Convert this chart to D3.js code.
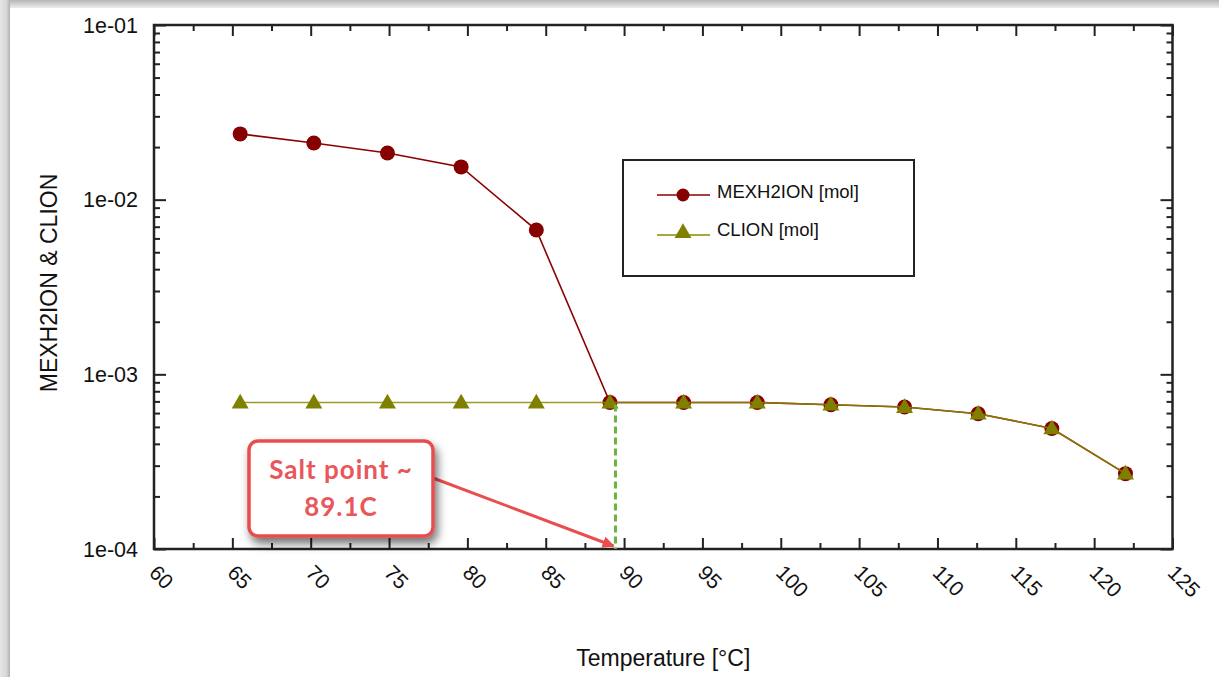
<!DOCTYPE html>
<head>
<meta charset="utf-8">
<style>
	body{
		margin: 0;
		background: white;
	}
	svg{
		display: block;
	}
	text{
		font-family: "Liberation Sans", Arial, sans-serif;
		fill: #111;
	}
</style>
</head>
<body>
<script src="https://cdn.jsdelivr.net/npm/d3@7"></script>
<svg width="1219" height="677"></svg>
<script>
	// values
	var temps = [65.5, 70.2, 74.9, 79.6, 84.4, 89.1, 93.8, 98.5, 103.2, 107.9, 112.6, 117.3, 122.0];
	var mexh2ion = [2.38e-2, 2.11e-2, 1.85e-2, 1.54e-2, 6.7e-3, 6.9e-4, 6.9e-4, 6.9e-4, 6.7e-4, 6.5e-4, 5.95e-4, 4.9e-4, 2.7e-4];
	var clion = [6.9e-4, 6.9e-4, 6.9e-4, 6.9e-4, 6.9e-4, 6.9e-4, 6.9e-4, 6.9e-4, 6.7e-4, 6.5e-4, 5.95e-4, 4.9e-4, 2.7e-4];
	var xTicks = [60, 65, 70, 75, 80, 85, 90, 95, 100, 105, 110, 115, 120, 125];
	var yTicks = [1e-4, 1e-3, 1e-2, 1e-1];
	var saltX = 89.45;
	var saltLabel = ["Salt point ~", "89.1C"];

	// plot frame (window.top is taken, hence the p prefix)
	var pLeft = 154, pRight = 1172.5, pTop = 25, pBottom = 549;

	var svg = d3.select("svg");

	// window shadow around the picture
	var defs = svg.append("defs");
	var gTop = defs.append("linearGradient").attr("id","gTop").attr("x1",0).attr("y1",0).attr("x2",0).attr("y2",1);
	gTop.append("stop").attr("offset","0%").attr("stop-color","#b5b5b5");
	gTop.append("stop").attr("offset","100%").attr("stop-color","#ececec");
	var gLeft = defs.append("linearGradient").attr("id","gLeft").attr("x1",0).attr("y1",0).attr("x2",1).attr("y2",0);
	gLeft.append("stop").attr("offset","0%").attr("stop-color","#e6e6e6");
	gLeft.append("stop").attr("offset","65%").attr("stop-color","#d6d6d6");
	gLeft.append("stop").attr("offset","100%").attr("stop-color","#b0b0b0");
	var shadow = defs.append("filter").attr("id","shadow")
		.attr("x","-20%").attr("y","-20%").attr("width","150%").attr("height","160%");
	shadow.append("feDropShadow")
		.attr("dx",3).attr("dy",6).attr("stdDeviation",5)
		.attr("flood-color","#000").attr("flood-opacity",0.55);

	svg.append("rect").attr("x",0).attr("y",0).attr("width",1219).attr("height",8).attr("fill","url(#gTop)");
	svg.append("rect").attr("x",0).attr("y",0).attr("width",10).attr("height",677).attr("fill","url(#gLeft)");

	var x = d3.scaleLinear().domain([60, 125]).range([pLeft, pRight]);
	var y = d3.scaleLog().domain([1e-4, 1e-1]).range([pBottom, pTop]);

	var minorY = y.ticks().filter(function(d){ return yTicks.indexOf(d) < 0; });
	var minorX = d3.range(62.5, 125, 5);

	function tickLines(gen, pos, values, size){
		svg.append("g")
			.attr("transform", pos)
			.call(gen.tickValues(values).tickSize(size).tickFormat(""))
			.call(function(g){
				g.select(".domain").remove();
				g.selectAll("line").attr("stroke","#222").attr("stroke-width",2);
			});
	}
	// inward ticks on all four sides
	tickLines(d3.axisLeft(y), "translate(" + pLeft + ",0)", yTicks, -12);
	tickLines(d3.axisLeft(y), "translate(" + pLeft + ",0)", minorY, -6);
	tickLines(d3.axisRight(y), "translate(" + pRight + ",0)", yTicks, -12);
	tickLines(d3.axisRight(y), "translate(" + pRight + ",0)", minorY, -6);
	tickLines(d3.axisBottom(x), "translate(0," + pBottom + ")", xTicks, -11);
	tickLines(d3.axisBottom(x), "translate(0," + pBottom + ")", minorX, -6);
	tickLines(d3.axisTop(x), "translate(0," + pTop + ")", xTicks, -11);
	tickLines(d3.axisTop(x), "translate(0," + pTop + ")", minorX, -6);

	svg.append("rect")
		.attr("x",pLeft).attr("y",pTop)
		.attr("width",pRight-pLeft).attr("height",pBottom-pTop)
		.attr("fill","none").attr("stroke","#222").attr("stroke-width",2.5);

	// tick labels
	svg.selectAll(".ylab").data(yTicks).enter().append("text")
		.attr("class","ylab")
		.attr("x",pLeft - 16)
		.attr("y",function(d){ return y(d); })
		.attr("dy","0.36em")
		.attr("text-anchor","end")
		.style("font-size","21.5px")
		.text(function(d){ return "1e-" + String(Math.round(-Math.log10(d))).padStart(2,"0"); });

	svg.selectAll(".xlab").data(xTicks).enter().append("text")
		.attr("class","xlab")
		.attr("transform",function(d){ return "translate(" + (x(d) - 6) + "," + (pBottom + 25) + ") rotate(45)"; })
		.attr("text-anchor","start")
		.style("font-size","21px")
		.text(function(d){ return d; });

	// axis titles
	svg.append("text")
		.attr("x",(pLeft+pRight)/2).attr("y",666)
		.attr("text-anchor","middle")
		.style("font-size","23px")
		.text("Temperature [°C]");
	svg.append("text")
		.attr("transform","translate(57," + ((pTop+pBottom)/2 - 4) + ") rotate(-90)")
		.attr("text-anchor","middle")
		.style("font-size","23px")
		.text("MEXH2ION & CLION");

	// series
	var line = d3.line()
		.x(function(d){ return x(d[0]); })
		.y(function(d){ return y(d[1]); });
	var tri = d3.symbol().type(d3.symbolTriangle).size(125);

	var mexPts = temps.map(function(t,i){ return [t, mexh2ion[i]]; });
	var clPts = temps.map(function(t,i){ return [t, clion[i]]; });

	svg.append("path").datum(mexPts)
		.attr("d",line).attr("fill","none").attr("stroke","#8b0000").attr("stroke-width",1.6);
	svg.selectAll(".mex").data(mexPts).enter().append("circle")
		.attr("cx",function(d){ return x(d[0]); })
		.attr("cy",function(d){ return y(d[1]); })
		.attr("r",7.5)
		.attr("fill","#870000");

	svg.append("path").datum(clPts)
		.attr("d",line).attr("fill","none").attr("stroke","#8a8a00").attr("stroke-width",1.6).attr("opacity",0.85);
	svg.selectAll(".cl").data(clPts).enter().append("path")
		.attr("transform",function(d){ return "translate(" + x(d[0]) + "," + (y(d[1]) + 1) + ")"; })
		.attr("d",tri)
		.attr("fill","#808000");

	// salt point marker
	svg.append("line")
		.attr("x1",x(saltX)).attr("x2",x(saltX))
		.attr("y1",y(clion[5]) + 2).attr("y2",pBottom)
		.attr("stroke","#6ab43e").attr("stroke-width",3)
		.attr("stroke-dasharray","7,4");

	// legend
	var lg = svg.append("g").attr("transform","translate(623,160)");
	lg.append("rect").attr("width",291).attr("height",116)
		.attr("fill","white").attr("stroke","#222").attr("stroke-width",2);
	lg.append("line").attr("x1",34).attr("x2",87).attr("y1",35).attr("y2",35)
		.attr("stroke","#8b0000").attr("stroke-width",1.6);
	lg.append("circle").attr("cx",60).attr("cy",35).attr("r",6.5).attr("fill","#870000");
	lg.append("text").attr("x",94).attr("y",32).attr("dy","0.35em")
		.style("font-size","18.5px").text("MEXH2ION [mol]");
	lg.append("line").attr("x1",34).attr("x2",87).attr("y1",75).attr("y2",75)
		.attr("stroke","#8a8a00").attr("stroke-width",1.6);
	lg.append("path").attr("transform","translate(60,73)").attr("d",tri).attr("fill","#808000");
	lg.append("text").attr("x",94).attr("y",70).attr("dy","0.35em")
		.style("font-size","18.5px").text("CLION [mol]");

	// call-out box and arrow
	defs.append("marker").attr("id","arrow")
		.attr("viewBox","0 0 10 10").attr("refX",9).attr("refY",5)
		.attr("markerWidth",4).attr("markerHeight",4).attr("orient","auto")
		.append("path").attr("d","M0,0L10,5L0,10z").attr("fill","#e84e4e");
	svg.append("line")
		.attr("x1",433).attr("y1",478).attr("x2",x(saltX) - 2).attr("y2",pBottom - 3)
		.attr("stroke","#e84e4e").attr("stroke-width",3)
		.attr("marker-end","url(#arrow)");
	svg.append("rect")
		.attr("x",249).attr("y",441).attr("width",184).attr("height",95)
		.attr("rx",9)
		.attr("fill","white").attr("stroke","#e84e4e").attr("stroke-width",3.5)
		.attr("filter","url(#shadow)");
	svg.selectAll(".salt").data(saltLabel).enter().append("text")
		.attr("x",341)
		.attr("y",function(d,i){ return 479 + i*37; })
		.attr("text-anchor","middle")
		.style("font-family","Lato, 'Open Sans', sans-serif")
		.style("font-weight","bold")
		.style("font-size","26px")
		.style("letter-spacing","1px")
		.style("fill","#e8575a")
		.text(function(d){ return d; });
</script>
</body>
</html>
